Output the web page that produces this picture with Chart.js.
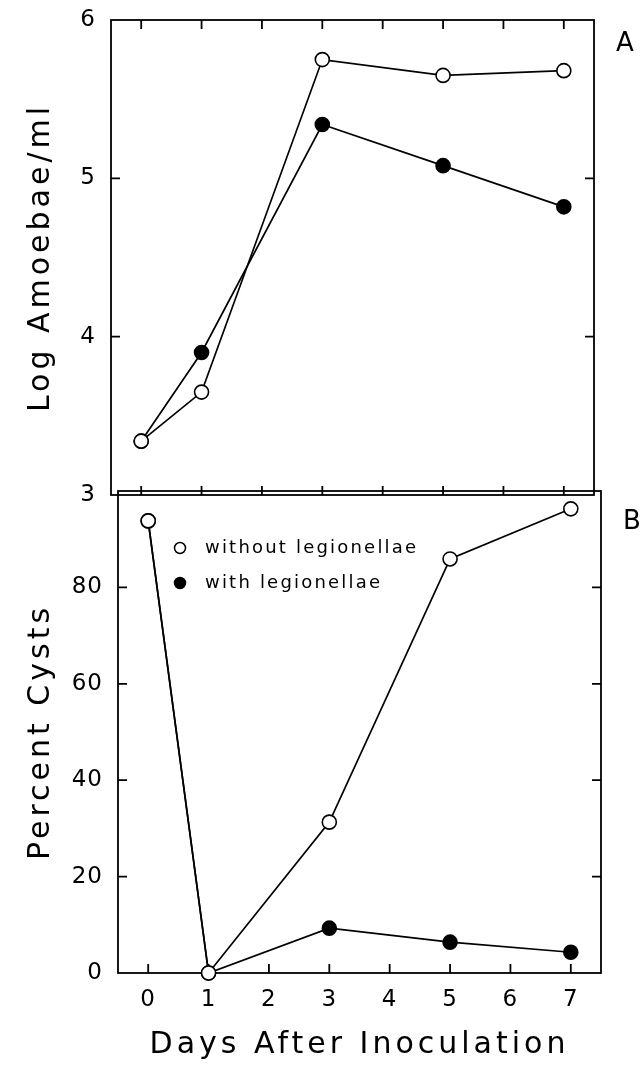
<!DOCTYPE html>
<html>
<head>
<meta charset="utf-8">
<script src="https://cdn.jsdelivr.net/npm/chart.js@4/dist/chart.umd.min.js"></script>
<style>
  html, body { margin: 0; padding: 0; background: #fff; }
  #wrap { position: relative; width: 642px; height: 1067px; overflow: hidden; }
  .panel { position: absolute; left: 0; width: 642px; }
  #topBox { top: 0; height: 520px; }
  #botBox { top: 480px; height: 587px; }
</style>
</head>
<body>
<div id="wrap">
  <div class="panel" id="topBox"><canvas id="topChart"></canvas></div>
  <div class="panel" id="botBox"><canvas id="botChart"></canvas></div>
</div>
<script>
// days after inoculation
const days = [0, 1, 3, 5, 7];

// panel A: log amoebae / ml
const amoebaeWithout = [3.34, 3.65, 5.75, 5.65, 5.68];
const amoebaeWith = [3.34, 3.90, 5.34, 5.08, 4.82];

// panel B: percent cysts
const cystsWithout = [93.8, 0, 31.3, 85.9, 96.3];
const cystsWith = [93.8, 0, 9.3, 6.4, 4.3];

const xTicks = [0, 1, 2, 3, 4, 5, 6, 7];
const amoebaeTicks = [3, 4, 5, 6];
const cystTicks = [0, 20, 40, 60, 80];

const legendLabels = ["without legionellae", "with legionellae"];

const fontFamily = "'DejaVu Sans', sans-serif";
const ink = "#000";

function pts(ys) {
    return days.map((d, i) => ({ x: d, y: ys[i] }));
}

function series(ys, open) {
    return {
        data: pts(ys),
        borderColor: ink,
        borderWidth: 1.7,
        backgroundColor: open ? "#fff" : ink,
        pointBackgroundColor: open ? "#fff" : ink,
        pointBorderColor: ink,
        pointBorderWidth: 1.6,
        pointRadius: 7,
        showLine: true,
        clip: false
    };
}

// frame plus inward tick marks, positioned through the chart's scales
const frameTicks = {
    id: "frameTicks",
    beforeDraw(chart) {
        // axis titles are spaced out like the original typesetting
        chart.ctx.letterSpacing = "4px";
    },
    beforeDatasetsDraw(chart, args, opts) {
        const { ctx, chartArea: a, scales } = chart;
        const len = 9;
        ctx.save();
        ctx.strokeStyle = ink;
        ctx.lineWidth = 1.8;
        ctx.strokeRect(a.left, a.top, a.right - a.left, a.bottom - a.top);
        ctx.beginPath();
        xTicks.forEach(v => {
            const px = scales.x.getPixelForValue(v);
            ctx.moveTo(px, a.bottom);
            ctx.lineTo(px, a.bottom - len);
            if (opts.topTicks) {
                ctx.moveTo(px, a.top);
                ctx.lineTo(px, a.top + len);
            }
        });
        opts.yTicks.forEach(v => {
            const py = scales.y.getPixelForValue(v);
            ctx.moveTo(a.left, py);
            ctx.lineTo(a.left + len, py);
            ctx.moveTo(a.right, py);
            ctx.lineTo(a.right - len, py);
        });
        ctx.stroke();
        ctx.restore();
    },
    afterDatasetsDraw(chart) {
        // tick labels (z: 1) come after this, with tighter spacing
        chart.ctx.letterSpacing = "1px";
    },
    afterDraw(chart, args, opts) {
        const { ctx, chartArea: a } = chart;
        ctx.save();
        ctx.fillStyle = ink;
        ctx.letterSpacing = "0px";
        ctx.font = "26px " + fontFamily;
        ctx.textBaseline = "middle";
        ctx.textAlign = "left";
        ctx.fillText(opts.panel, a.right + 22, a.top + opts.panelDy);
        if (opts.legend) {
            ctx.font = "18px " + fontFamily;
            ctx.letterSpacing = "2.2px";
            legendLabels.forEach((t, i) => {
                const y = a.top + 57 + i * 35;
                const x = a.left + 62;
                ctx.beginPath();
                ctx.arc(x, y, 5.5, 0, Math.PI * 2);
                ctx.fillStyle = i === 0 ? "#fff" : ink;
                ctx.fill();
                ctx.lineWidth = 1.5;
                ctx.strokeStyle = ink;
                ctx.stroke();
                ctx.fillStyle = ink;
                ctx.fillText(t, x + 25, y);
            });
        }
        ctx.letterSpacing = "4px";
        ctx.restore();
    }
};

const tickFont = { family: fontFamily, size: 23 };
const titleFont = { family: fontFamily, size: 30 };

function noPad(s) {
    s.paddingTop = 0;
    s.paddingBottom = 0;
    s.paddingLeft = 0;
    s.paddingRight = 0;
}

function xScale(showLabels) {
    return {
        type: "linear",
        min: -0.5,
        max: 7.5,
        display: showLabels,
        grid: { display: false, drawTicks: false },
        border: { display: false },
        afterBuildTicks: s => { s.ticks = xTicks.map(v => ({ value: v })); },
        ticks: { color: ink, font: tickFont, padding: 13, z: 1 },
        title: {
            display: showLabels,
            text: "Days After Inoculation",
            color: ink,
            font: titleFont,
            padding: { top: 0, bottom: 4 }
        },
        afterFit: s => {
            noPad(s);
            if (showLabels) s.height = 94;
        }
    };
}

function yScale(min, max, tickVals, title, width) {
    return {
        type: "linear",
        min: min,
        max: max,
        grid: { display: false, drawTicks: false },
        border: { display: false },
        afterBuildTicks: s => { s.ticks = tickVals.map(v => ({ value: v })); },
        ticks: { color: ink, font: tickFont, padding: 15, z: 1 },
        title: {
            display: true,
            text: title,
            color: ink,
            font: titleFont,
            padding: { top: 23, bottom: 0 }
        },
        afterFit: s => {
            noPad(s);
            s.width = width;
        }
    };
}

const baseOptions = {
    responsive: true,
    maintainAspectRatio: false,
    animation: { duration: 0 },
    events: [],
    plugins: {
        legend: { display: false },
        tooltip: { enabled: false }
    }
};

new Chart(document.getElementById("topChart"), {
    type: "scatter",
    data: {
        datasets: [series(amoebaeWithout, true), series(amoebaeWith, false)]
    },
    options: {
        ...baseOptions,
        layout: { padding: { top: 20, bottom: 25, left: 0, right: 48 } },
        scales: {
            x: xScale(false),
            y: yScale(3, 6, amoebaeTicks, "Log Amoebae/ml", 111)
        },
        plugins: {
            ...baseOptions.plugins,
            frameTicks: { topTicks: true, yTicks: [4, 5], panel: "A", panelDy: 24 }
        }
    },
    plugins: [frameTicks]
});

new Chart(document.getElementById("botChart"), {
    type: "scatter",
    data: {
        datasets: [series(cystsWithout, true), series(cystsWith, false)]
    },
    options: {
        ...baseOptions,
        layout: { padding: { top: 11, bottom: 0, left: 0, right: 41 } },
        scales: {
            x: xScale(true),
            y: yScale(0, 100, cystTicks, "Percent Cysts", 118)
        },
        plugins: {
            ...baseOptions.plugins,
            frameTicks: { topTicks: false, yTicks: [20, 40, 60, 80], panel: "B", panelDy: 31, legend: true }
        }
    },
    plugins: [frameTicks]
});
</script>
</body>
</html>
